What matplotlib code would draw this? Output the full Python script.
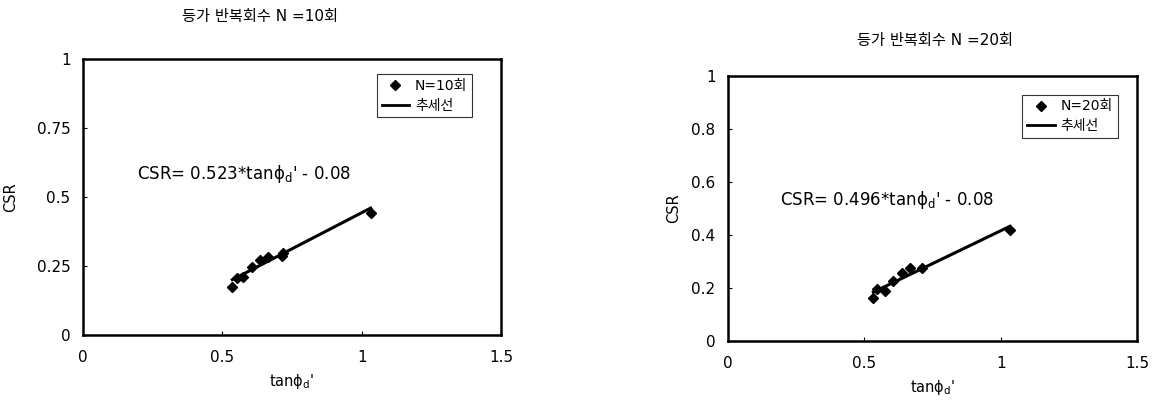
import matplotlib
matplotlib.use("Agg")
import matplotlib.pyplot as plt
from matplotlib.lines import Line2D

plt.rcParams['font.family'] = ['DejaVu Sans', 'Noto Sans CJK KR']
plt.rcParams['mathtext.fontset'] = 'dejavusans'

# Data: N = 10
x10 = [0.536, 0.552, 0.575, 0.608, 0.635, 0.665, 0.713, 0.718, 1.032]
y10 = [0.173, 0.205, 0.209, 0.248, 0.272, 0.284, 0.286, 0.297, 0.443]
a10, b10 = 0.523, -0.08

# Data: N = 20
x20 = [0.533, 0.545, 0.576, 0.606, 0.637, 0.667, 0.710, 1.034]
y20 = [0.161, 0.195, 0.190, 0.228, 0.255, 0.274, 0.274, 0.419]
a20, b20 = 0.496, -0.08

titles = ['등가 반복회수 N =10회', '등가 반복회수 N =20회']
legend_labels = [['N=10회', '추세선'], ['N=20회', '추세선']]
eq_texts = ["CSR= 0.523*tan\u03d5$_\\mathrm{d}$' - 0.08", "CSR= 0.496*tan\u03d5$_\\mathrm{d}$' - 0.08"]
xlabel_text = "tan\u03d5$_\\mathrm{d}$'"
yticks_list = [[0, 0.25, 0.5, 0.75, 1], [0, 0.2, 0.4, 0.6, 0.8, 1]]
ytick_labels = [['0', '0.25', '0.5', '0.75', '1'], ['0', '0.2', '0.4', '0.6', '0.8', '1']]
xticks = [0, 0.5, 1, 1.5]
xtick_labels = ['0', '0.5', '1', '1.5']

fig = plt.figure(figsize=(11.57, 4.01), dpi=100)
W, H = 1157, 401
boxes = [(83, 501, 59, 335), (728, 1137, 76, 341)]
title_pos = [(260, 16), (935, 40)]
eq_pos = [(0.194, 0.583), (0.191, 0.532)]
leg_pos = [(0.931, 0.945), (0.953, 0.93)]
ylab_x = [-0.155, -0.115]

datasets = [(x10, y10, a10, b10), (x20, y20, a20, b20)]

for i in range(2):
    l, r, t, b = boxes[i]
    ax = fig.add_axes([l / W, 1 - b / H, (r - l) / W, (b - t) / H])
    xs, ys, a, c = datasets[i]
    ax.plot(xs, ys, linestyle='none', marker='D', markersize=5.5, color='black', label=legend_labels[i][0])
    xl = [min(xs), max(xs)]
    ax.plot(xl, [a * v + c for v in xl], color='black', lw=2.2, label=legend_labels[i][1])
    ax.set_xlim(0, 1.5)
    ax.set_ylim(0, 1)
    ax.set_xticks(xticks)
    ax.set_xticklabels(xtick_labels)
    ax.set_yticks(yticks_list[i])
    ax.set_yticklabels(ytick_labels[i])
    ax.tick_params(direction='in', length=3, width=0.8, labelsize=11, pad=9)
    ax.tick_params(axis='x', pad=11)
    for s in ax.spines.values():
        s.set_linewidth(1.8)
    ax.set_xlabel(xlabel_text, fontsize=10.5, labelpad=5)
    ax.set_ylabel('CSR', fontsize=10.5)
    ax.yaxis.set_label_coords(ylab_x[i], 0.5)
    ax.text(eq_pos[i][0], eq_pos[i][1], eq_texts[i], fontsize=12, va='center', ha='left')
    handles = [Line2D([], [], linestyle='none', marker='D', markersize=5, color='black'),
               Line2D([], [], color='black', lw=2)]
    leg = ax.legend(handles, legend_labels[i], loc='upper right', bbox_to_anchor=leg_pos[i],
                    fontsize=10, frameon=True, fancybox=False, edgecolor='black',
                    handlelength=2.0, handletextpad=0.4, borderpad=0.35, labelspacing=0.4,
                    borderaxespad=0)
    leg.get_frame().set_linewidth(0.8)
    fig.text(title_pos[i][0] / W, 1 - title_pos[i][1] / H, titles[i], ha='center', va='center', fontsize=11)

fig.savefig('out.png', dpi=100)
